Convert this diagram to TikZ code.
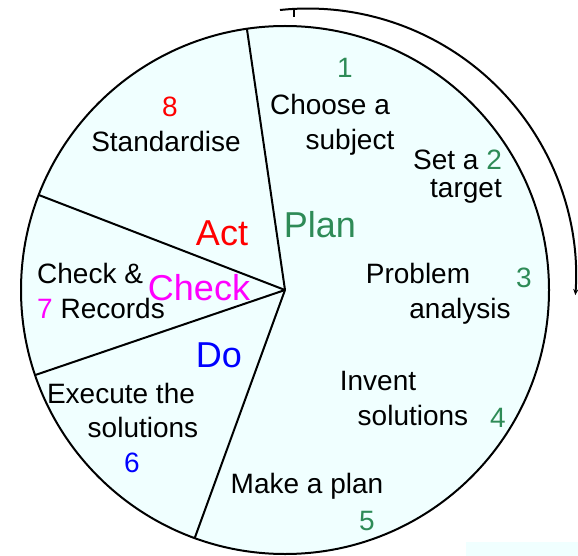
\documentclass[tikz,border=0pt]{standalone}
\usepackage{fontspec}
\setmainfont{Liberation Sans}
\usetikzlibrary{arrows.meta,calc}
\definecolor{pgreen}{RGB}{46,139,87}
\definecolor{pred}{RGB}{255,0,0}
\definecolor{pmag}{RGB}{255,0,255}
\definecolor{pblue}{RGB}{0,0,255}
\definecolor{pfill}{RGB}{240,255,255}
\begin{document}
\begin{tikzpicture}[x=1pt,y=-1pt,
  lbl/.style={anchor=base,inner sep=0pt,font=\fontsize{28}{32}\selectfont,text=black},
  big/.style={anchor=base,inner sep=0pt,font=\fontsize{36}{40}\selectfont},
  spoke/.style={line width=2pt,black},
  rim/.style={line width=2pt,black,fill=pfill}]
\useasboundingbox (0,0) rectangle (578,556);
\fill[pfill] (466,542) rectangle (578,556);
\coordinate (O) at (285,290);
\draw[rim] (O) circle[radius=264];
\coordinate (s1) at ($(O)+(-98.3:264)$);
\coordinate (s2) at ($(O)+(-158.9:264)$);
\coordinate (s3) at ($(O)+(161.2:264)$);
\coordinate (s4) at ($(O)+(110:264)$);
\draw[spoke] (O) -- (s1);
\draw[spoke] (O) -- (s2);
\draw[spoke] (O) -- (s3);
\draw[spoke] (O) -- (s4);
% outer arc
\coordinate (a0) at (280,10);
\draw[line width=2pt,-{Stealth[length=6pt,width=5pt]}] (a0) arc[start angle=-96,end angle=4,radius=268];
\coordinate (t0) at (294,10);
\coordinate (t1) at (294,17);
\draw[line width=1.5pt] (t0) -- (t1);
% Plan labels
\node[lbl,text=pgreen] (n1) at (345,78) {1};
\node[lbl] (c1) at (330,115) {Choose a};
\node[lbl] (c2) at (350,150) {subject};
\node[lbl,anchor=base west] (t1a) at (413,170) {Set a \textcolor{pgreen}{2}};
\node[lbl] (t2) at (466,198) {target};
\node[lbl] (p1) at (418,283) {Problem};
\node[lbl,text=pgreen] (n3) at (524,287) {3};
\node[lbl] (p2) at (460,318) {analysis};
\node[lbl] (i1) at (378,390) {Invent};
\node[lbl] (i2) at (413,425) {solutions};
\node[lbl,text=pgreen] (n4) at (498,427) {4};
\node[lbl] (m1) at (307,493) {Make a plan};
\node[lbl,text=pgreen] (n5) at (367,530) {5};
% Do
\node[lbl] (e1) at (121,403) {Execute the};
\node[lbl] (e2) at (143,437) {solutions};
\node[lbl,text=pblue] (n6) at (132,472) {6};
% Check
\node[lbl,anchor=base west] (k1) at (37,283) {Check \&};
\node[lbl,anchor=base west] (k2) at (37,318) {\textcolor{pmag}{7} Records};
% Act
\node[lbl,text=pred] (n8) at (170,117) {8};
\node[lbl] (st) at (166,152) {Standardise};
% big labels
\node[big,text=pgreen] (plan) at (320,237) {Plan};
\node[big,text=pred] (act) at (222,245) {Act};
\node[big,text=pmag] (chk) at (199,300) {Check};
\node[big,text=pblue] (do) at (219,367) {Do};
\end{tikzpicture}
\end{document}
